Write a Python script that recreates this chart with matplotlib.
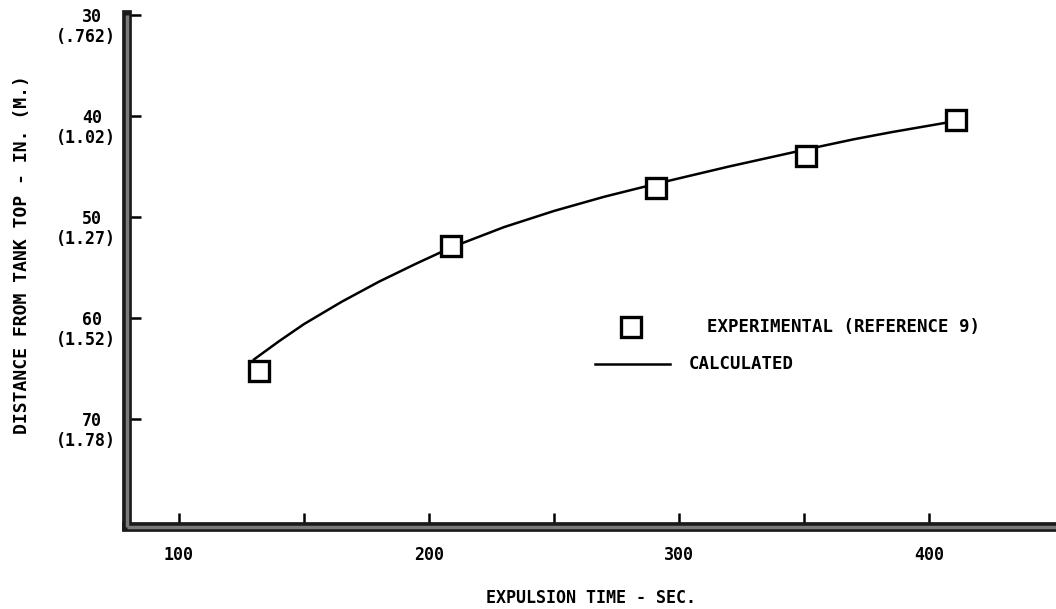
import matplotlib.pyplot as plt
import matplotlib.transforms as mtransforms

# experimental points (reference 9), expulsion time [s] vs distance [in.]
exp_time = [132, 209, 291, 351, 411]
exp_dist = [65.2, 52.9, 47.1, 44.0, 40.4]

# calculated curve
calc_time = [130, 140, 150, 165, 180, 195, 209, 230, 250, 270, 291, 320, 351, 370, 385, 406]
calc_dist = [64.1, 62.3, 60.6, 58.4, 56.4, 54.6, 53.0, 51.0, 49.4, 48.0, 46.7, 45.0, 43.3, 42.3, 41.6, 40.7]

x_ticks = [100, 150, 200, 250, 300, 350, 400]
x_labels = ["100", "", "200", "", "300", "", "400"]
y_ticks = [30, 40, 50, 60, 70]
y_metric = [".762", "1.02", "1.27", "1.52", "1.78"]

plt.rcParams["font.family"] = "DejaVu Sans Mono"
plt.rcParams["font.weight"] = "bold"
plt.rcParams["axes.labelweight"] = "bold"

fig = plt.figure(figsize=(10.56, 6.09), dpi=100)
ax = fig.add_axes([127 / 1056, 82.5 / 609, 929 / 1056, 511.5 / 609])

ax.plot(calc_time, calc_dist, color="black", lw=1.8, zorder=3)
ax.plot(exp_time, exp_dist, ls="none", marker="s", ms=15, mew=2.4,
        mfc="white", mec="black", zorder=4)

ax.set_xlim(79.2, 450.8)
ax.set_ylim(80.64, 30)

# heavy scanned-looking axes
for side in ("top", "right"):
    ax.spines[side].set_visible(False)
for side in ("left", "bottom"):
    ax.spines[side].set_linewidth(7)
    ax.spines[side].set_color("#1a1a1a")
    ax.spines[side].set_capstyle("projecting")
ax.plot([0, 0], [0, 1], transform=ax.transAxes, color="#7a7a7a", lw=2.5,
        clip_on=False, zorder=5, solid_capstyle="butt")
ax.plot([0, 1], [0, 0], transform=ax.transAxes, color="#7a7a7a", lw=2.5,
        clip_on=False, zorder=5, solid_capstyle="butt")

ax.set_xticks(x_ticks, labels=x_labels)
ax.set_yticks(y_ticks, labels=[""] * len(y_ticks))
ax.tick_params(axis="both", direction="in", length=10, width=1.8,
               color="black")
ax.tick_params(axis="x", pad=14, labelsize=12)

# two-line y tick labels: inches with metres below
trans = mtransforms.blended_transform_factory(ax.transAxes, ax.transData)
for v, m in zip(y_ticks, y_metric):
    ax.text(-0.0377, v + 0.2, f"{v}", transform=trans, ha="center",
            va="center", fontsize=12)
    ax.text(-0.0441, v + 2.2, f"({m})", transform=trans, ha="center",
            va="center", fontsize=12)

ax.set_xlabel("EXPULSION TIME - SEC.", fontsize=12)
ax.xaxis.set_label_coords(0.4995, -0.14)
ax.xaxis.label.set_va("center")
ax.set_ylabel("DISTANCE FROM TANK TOP - IN. (M.)", fontsize=13)
ax.yaxis.set_label_coords(-0.113, 0.531)
ax.yaxis.label.set_va("center")

# hand-drawn style key
ax.plot([0.5425], [0.390], transform=ax.transAxes, marker="s", ms=15,
        mew=2.4, mfc="white", mec="black", ls="none")
ax.text(0.624, 0.390, "EXPERIMENTAL (REFERENCE 9)", transform=ax.transAxes,
        ha="left", va="center", fontsize=12.5)
ax.plot([0.504, 0.5845], [0.3177, 0.3177], transform=ax.transAxes,
        color="black", lw=1.8)
ax.text(0.605, 0.3177, "CALCULATED", transform=ax.transAxes,
        ha="left", va="center", fontsize=12.5)

fig.savefig("out.png", dpi=100)
